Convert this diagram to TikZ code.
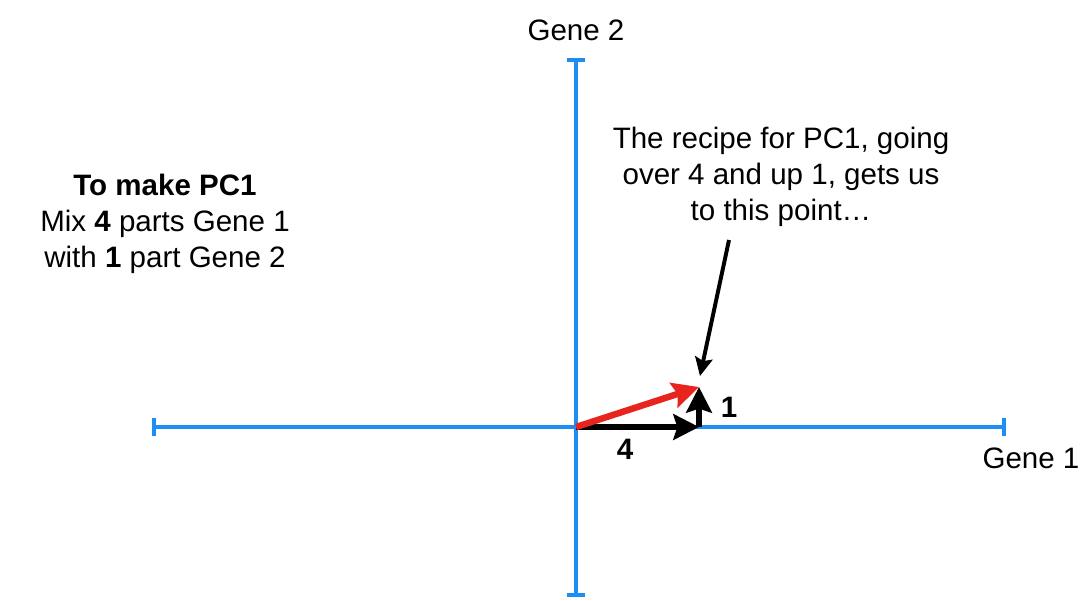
\documentclass[tikz,border=0pt]{standalone}
\usepackage{fontspec}
\setmainfont{Liberation Sans}
\usetikzlibrary{arrows.meta}
\definecolor{axisblue}{RGB}{28,142,245}
\definecolor{pcred}{RGB}{232,36,30}
\tikzset{
    axis/.style={draw=axisblue, line width=3pt, {Bar[width=0.45cm]}-{Bar[width=0.45cm]}},
    step arrow/.style={draw=black, line width=4.4pt, -{Stealth[length=0.64cm, width=0.64cm, inset=0.1cm]}},
    pc arrow/.style={draw=pcred, line width=4.6pt, -{Stealth[length=0.66cm, width=0.64cm, inset=0.1cm]}},
    pointer/.style={draw=black, line width=2.8pt, -{Stealth[length=0.46cm, width=0.44cm, inset=0.08cm]}},
    txt/.style={font=\fontsize{21}{25.6}\selectfont, align=center, inner sep=0pt},
    num/.style={font=\fontsize{21}{25.6}\selectfont\bfseries, inner sep=0pt}
}
\begin{document}
\begin{tikzpicture}[x=0.025cm, y=-0.025cm]
    \useasboundingbox (0,0) rectangle (1080,600);

    % Ejes (Gene 1 horizontal, Gene 2 vertical)
    \coordinate (xmin) at (152,427);
    \coordinate (xmax) at (1006,427);
    \coordinate (ymax) at (576,58);
    \coordinate (ymin) at (576,597);
    \draw[axis] (xmin) -- (xmax);
    \draw[axis] (ymin) -- (ymax);
    \node[txt] (gene2) at (576,30) {Gene 2};
    \node[txt] (gene1) at (1031,458) {Gene 1};

    % Receta de PC1: 4 a la derecha, 1 arriba
    \coordinate (origin) at (576,427);
    \coordinate (over) at (699,427);
    \coordinate (up) at (699,387);
    \draw[step arrow] (origin) -- (over);
    \draw[step arrow] (over) -- (up);
    \draw[pc arrow] (origin) -- (up);
    \node[num] (four) at (625,449) {4};
    \node[num] (one) at (729,407) {1};

    % Texto a la izquierda
    \node[txt] (recipe) at (165,224) {\textbf{To make PC1}\\ Mix \textbf{4} parts Gene 1\\ with \textbf{1} part Gene 2};

    % Nota con flecha
    \node[txt] (note) at (781,177) {The recipe for PC1, going\\ over 4 and up 1, gets us\\ to this point\ldots};
    \coordinate (notefoot) at (729,240);
    \coordinate (notetip) at (700,376);
    \draw[pointer] (notefoot) -- (notetip);
\end{tikzpicture}
\end{document}
